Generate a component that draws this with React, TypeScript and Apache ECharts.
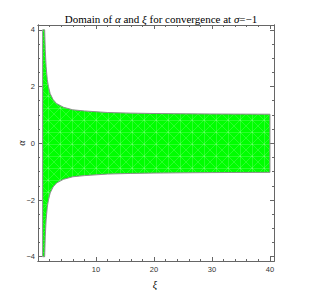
import React, { useEffect, useRef } from "react";
import * as echarts from "echarts";

// ξ values along the boundary and the α bounds
const xi = [0.8, 1.15, 1.25, 1.4, 1.6, 1.8, 2.1, 2.6, 3.2, 4.4, 6, 8, 12, 16, 20, 25, 30, 35, 40];
const alphaUpper = [4, 4, 3.3, 2.7, 2.25, 2.0, 1.75, 1.54, 1.4, 1.27, 1.18, 1.14, 1.085, 1.063, 1.05, 1.04, 1.033, 1.028, 1.025];
const alphaLower = [-4, -4, -3.3, -2.7, -2.25, -2.0, -1.75, -1.54, -1.4, -1.27, -1.18, -1.14, -1.085, -1.063, -1.05, -1.04, -1.033, -1.028, -1.025];

const xMajorTicks = [10, 20, 30, 40];
const xMinorTicks = [2, 4, 6, 8, 12, 14, 16, 18, 22, 24, 26, 28, 32, 34, 36, 38, 40];
const yMajorTicks = [-4, -2, 0, 2, 4];
const yMinorTicks = [-4, -3.5, -3, -2.5, -2, -1.5, -1, -0.5, 0, 0.5, 1, 1.5, 2, 2.5, 3, 3.5, 4];

const X_MIN = 0;
const X_MAX = 40.7;
const Y_MIN = -4.15;
const Y_MAX = 4.17;

const FRAME = "#666666";

function fmt(v: number) {
  return String(v).replace("-", "\u2212");
}

function makeMeshPattern(): any {
  const size = 12;
  const c = document.createElement("canvas");
  c.width = size;
  c.height = size;
  const ctx = c.getContext("2d");
  if (!ctx) return "#00ff00";
  ctx.fillStyle = "#00ff00";
  ctx.fillRect(0, 0, size, size);
  ctx.strokeStyle = "rgba(255,255,255,0.17)";
  ctx.lineWidth = 1;
  ctx.beginPath();
  ctx.moveTo(0.5, 0);
  ctx.lineTo(0.5, size);
  ctx.moveTo(0, 0.5);
  ctx.lineTo(size, 0.5);
  ctx.moveTo(0, 0);
  ctx.lineTo(size, size);
  ctx.moveTo(size, 0);
  ctx.lineTo(0, size);
  ctx.stroke();
  return { image: c, repeat: "repeat" };
}

function xAxis(pos: string, ticks: number[], len: number, labels: boolean) {
  return {
    type: "value",
    position: pos,
    min: X_MIN,
    max: X_MAX,
    axisLine: { show: true, onZero: false, lineStyle: { color: FRAME, width: 1 } },
    axisTick: { show: true, inside: true, length: len, customValues: ticks, lineStyle: { color: FRAME, width: 1 } },
    axisLabel: {
      show: labels,
      customValues: ticks,
      formatter: fmt,
      margin: 4,
      color: "#333",
      fontFamily: "Liberation Sans",
      fontSize: 7.5,
    },
    splitLine: { show: false },
    minorTick: { show: false },
  };
}

function yAxis(pos: string, ticks: number[], len: number, labels: boolean) {
  return {
    type: "value",
    position: pos,
    min: Y_MIN,
    max: Y_MAX,
    axisLine: { show: true, onZero: false, lineStyle: { color: FRAME, width: 1 } },
    axisTick: { show: true, inside: true, length: len, customValues: ticks, lineStyle: { color: FRAME, width: 1 } },
    axisLabel: {
      show: labels,
      customValues: ticks,
      formatter: fmt,
      margin: 3,
      color: "#333",
      fontFamily: "Liberation Sans",
      fontSize: 7.5,
    },
    splitLine: { show: false },
    minorTick: { show: false },
  };
}

export default function App() {
  const ref = useRef<HTMLDivElement>(null);
  useEffect(() => {
    if (!ref.current) return;
    const chart = echarts.init(ref.current, undefined, { renderer: "svg" });
    const serif = "Liberation Serif";
    const fill = makeMeshPattern();
    chart.setOption({
      animation: false,
      backgroundColor: "#ffffff",
      title: {
        text: "Domain of {i|α} and {i|ξ} for convergence at {i|σ}=\u22121",
        left: 156,
        top: 8,
        textAlign: "center",
        textStyle: {
          fontFamily: serif,
          fontSize: 11,
          fontWeight: "normal",
          color: "#000",
          rich: { i: { fontFamily: serif, fontSize: 11, fontStyle: "italic", color: "#000" } },
        },
      },
      grid: { left: 38, top: 25, width: 236, height: 236, show: false },
      xAxis: [
        xAxis("bottom", xMajorTicks, 4, true),
        xAxis("bottom", xMinorTicks, 2, false),
        xAxis("top", xMajorTicks, 4, false),
        xAxis("top", xMinorTicks, 2, false),
      ],
      yAxis: [
        yAxis("left", yMajorTicks, 4, true),
        yAxis("left", yMinorTicks, 2, false),
        yAxis("right", yMajorTicks, 4, false),
        yAxis("right", yMinorTicks, 2, false),
      ],
      graphic: [
        {
          type: "text",
          x: 155,
          y: 284,
          style: { text: "ξ", fontFamily: serif, fontStyle: "italic", fontSize: 10, fill: "#000", align: "center", verticalAlign: "middle" },
        },
        {
          type: "text",
          x: 21,
          y: 143,
          rotation: Math.PI / 2,
          style: { text: "α", fontFamily: serif, fontStyle: "italic", fontSize: 10, fill: "#000", align: "center", verticalAlign: "middle" },
        },
      ],
      series: [
        {
          type: "custom",
          xAxisIndex: 0,
          yAxisIndex: 0,
          silent: true,
          clip: false,
          data: xi.map((x, i) => [x, alphaUpper[i], alphaLower[i]]),
          encode: { x: 0, y: [1, 2] },
          renderItem: (params: any, api: any) => {
            if (params.dataIndex !== 0) return null;
            const up = xi.map((x, i) => api.coord([x, alphaUpper[i]]));
            const lo = xi.map((x, i) => api.coord([x, alphaLower[i]])).reverse();
            return {
              type: "polygon",
              shape: { points: up.concat(lo) },
              style: { fill, stroke: "#8c8c8c", lineWidth: 1 },
            };
          },
        },
      ],
    });
    return () => chart.dispose();
  }, []);
  return <div ref={ref} style={{ position: "fixed", left: 0, top: 0, width: 319, height: 290 }} />;
}
